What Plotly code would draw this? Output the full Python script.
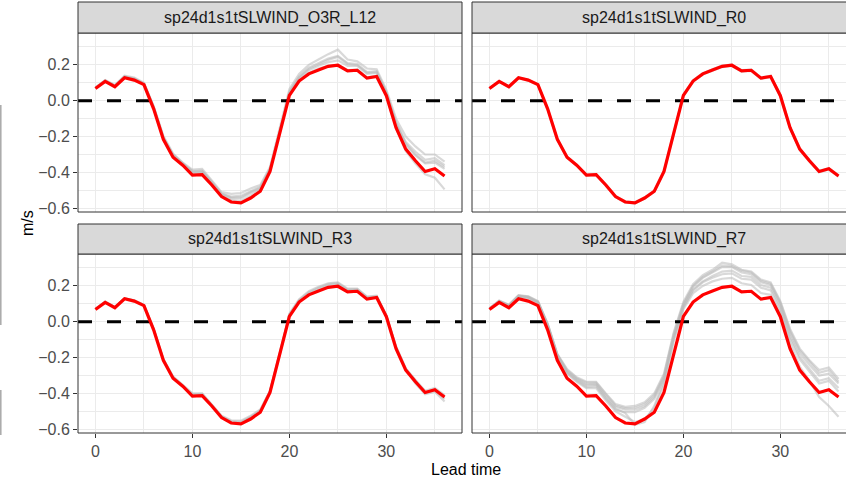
import plotly.graph_objects as go

# ---------------- data ----------------
lead_time = [0, 1, 2, 3, 4, 5, 6, 7, 8, 9, 10, 11, 12, 13, 14, 15, 16, 17, 18,
             19, 20, 21, 22, 23, 24, 25, 26, 27, 28, 29, 30, 31, 32, 33, 34, 35, 36]

panels = ["sp24d1s1tSLWIND_O3R_L12", "sp24d1s1tSLWIND_R0",
          "sp24d1s1tSLWIND_R3", "sp24d1s1tSLWIND_R7"]

control = [0.068, 0.108, 0.078, 0.128, 0.115, 0.090, -0.045, -0.215, -0.315, -0.360,
           -0.415, -0.413, -0.470, -0.535, -0.565, -0.570, -0.543, -0.505, -0.395, -0.190,
           0.030, 0.110, 0.150, 0.172, 0.192, 0.198, 0.167, 0.170, 0.126, 0.135,
           0.028, -0.150, -0.270, -0.335, -0.395, -0.380, -0.420]

l12_m1 = [0.075, 0.115, 0.088, 0.140, 0.130, 0.100, -0.030, -0.195, -0.295, -0.345,
          -0.385, -0.380, -0.445, -0.510, -0.520, -0.515, -0.490, -0.470, -0.370, -0.160,
          0.065, 0.150, 0.200, 0.230, 0.260, 0.285, 0.230, 0.220, 0.180, 0.175,
          0.060, -0.100, -0.200, -0.255, -0.300, -0.300, -0.340]
l12_m2 = [0.072, 0.112, 0.085, 0.135, 0.125, 0.095, -0.035, -0.205, -0.300, -0.350,
          -0.395, -0.390, -0.455, -0.520, -0.535, -0.530, -0.505, -0.480, -0.380, -0.175,
          0.050, 0.135, 0.185, 0.210, 0.235, 0.250, 0.210, 0.205, 0.160, 0.165,
          0.045, -0.120, -0.230, -0.285, -0.330, -0.320, -0.360]
l12_m3 = [0.070, 0.110, 0.082, 0.132, 0.120, 0.094, -0.040, -0.210, -0.305, -0.355,
          -0.400, -0.398, -0.460, -0.525, -0.545, -0.545, -0.515, -0.490, -0.385, -0.180,
          0.040, 0.125, 0.170, 0.195, 0.215, 0.225, 0.195, 0.195, 0.150, 0.155,
          0.040, -0.130, -0.245, -0.305, -0.350, -0.345, -0.380]
l12_m4 = [0.068, 0.108, 0.080, 0.130, 0.118, 0.092, -0.042, -0.212, -0.310, -0.358,
          -0.405, -0.402, -0.465, -0.530, -0.555, -0.560, -0.530, -0.495, -0.390, -0.185,
          0.035, 0.115, 0.155, 0.180, 0.195, 0.200, 0.170, 0.175, 0.130, 0.140,
          0.030, -0.155, -0.280, -0.350, -0.410, -0.430, -0.495]
l12_m5 = [0.070, 0.112, 0.084, 0.136, 0.122, 0.096, -0.036, -0.206, -0.302, -0.352,
          -0.392, -0.392, -0.452, -0.518, -0.540, -0.538, -0.510, -0.485, -0.382, -0.178,
          0.045, 0.130, 0.178, 0.205, 0.228, 0.245, 0.205, 0.198, 0.155, 0.160,
          0.048, -0.125, -0.238, -0.300, -0.345, -0.335, -0.370]

r0_m1 = [0.070, 0.110, 0.080, 0.130, 0.117, 0.092, -0.042, -0.212, -0.312, -0.358,
         -0.412, -0.410, -0.467, -0.532, -0.562, -0.567, -0.540, -0.502, -0.392, -0.186,
         0.034, 0.114, 0.154, 0.176, 0.196, 0.202, 0.171, 0.174, 0.130, 0.139,
         0.032, -0.146, -0.266, -0.331, -0.391, -0.376, -0.416]
r0_m2 = [0.066, 0.106, 0.076, 0.126, 0.113, 0.088, -0.048, -0.218, -0.318, -0.363,
         -0.418, -0.416, -0.473, -0.538, -0.568, -0.573, -0.546, -0.508, -0.398, -0.194,
         0.026, 0.106, 0.146, 0.168, 0.188, 0.194, 0.163, 0.166, 0.122, 0.131,
         0.024, -0.154, -0.274, -0.339, -0.399, -0.384, -0.424]

r3_m1 = [0.072, 0.112, 0.082, 0.132, 0.120, 0.094, -0.040, -0.208, -0.305, -0.352,
         -0.400, -0.400, -0.460, -0.525, -0.550, -0.552, -0.525, -0.490, -0.385, -0.180,
         0.045, 0.125, 0.170, 0.195, 0.215, 0.220, 0.185, 0.185, 0.140, 0.145,
         0.035, -0.140, -0.260, -0.330, -0.395, -0.385, -0.430]
r3_m2 = [0.070, 0.110, 0.080, 0.130, 0.118, 0.092, -0.042, -0.212, -0.312, -0.358,
         -0.408, -0.406, -0.466, -0.530, -0.560, -0.562, -0.535, -0.498, -0.390, -0.185,
         0.038, 0.118, 0.160, 0.185, 0.205, 0.210, 0.178, 0.178, 0.135, 0.140,
         0.032, -0.145, -0.268, -0.345, -0.405, -0.390, -0.445]
r3_m3 = [0.070, 0.110, 0.082, 0.130, 0.118, 0.093, -0.040, -0.210, -0.308, -0.355,
         -0.405, -0.402, -0.462, -0.528, -0.555, -0.558, -0.530, -0.495, -0.388, -0.182,
         0.040, 0.120, 0.165, 0.190, 0.210, 0.215, 0.180, 0.182, 0.138, 0.142,
         0.034, -0.140, -0.262, -0.325, -0.385, -0.370, -0.410]

r7_m1 = [0.075, 0.118, 0.095, 0.148, 0.142, 0.115, -0.010, -0.180, -0.265, -0.310,
         -0.335, -0.335, -0.400, -0.460, -0.475, -0.470, -0.450, -0.400, -0.290, -0.060,
         0.110, 0.210, 0.260, 0.290, 0.330, 0.320, 0.290, 0.280, 0.235, 0.220,
         0.115, -0.040, -0.150, -0.215, -0.270, -0.255, -0.320]
r7_m2 = [0.073, 0.115, 0.092, 0.145, 0.138, 0.110, -0.015, -0.185, -0.275, -0.320,
         -0.350, -0.345, -0.415, -0.475, -0.490, -0.490, -0.470, -0.420, -0.310, -0.080,
         0.095, 0.195, 0.245, 0.275, 0.305, 0.305, 0.275, 0.265, 0.220, 0.205,
         0.100, -0.060, -0.175, -0.240, -0.300, -0.290, -0.345]
r7_m3 = [0.072, 0.112, 0.090, 0.142, 0.135, 0.108, -0.020, -0.190, -0.285, -0.330,
         -0.365, -0.360, -0.430, -0.490, -0.505, -0.505, -0.480, -0.430, -0.320, -0.090,
         0.085, 0.180, 0.225, 0.255, 0.280, 0.285, 0.255, 0.250, 0.205, 0.190,
         0.085, -0.080, -0.195, -0.265, -0.330, -0.315, -0.370]
r7_m4 = [0.070, 0.110, 0.088, 0.140, 0.132, 0.105, -0.025, -0.195, -0.290, -0.335,
         -0.370, -0.370, -0.440, -0.500, -0.530, -0.560, -0.545, -0.480, -0.350, -0.110,
         0.070, 0.160, 0.200, 0.225, 0.240, 0.245, 0.215, 0.205, 0.160, 0.150,
         0.050, -0.120, -0.250, -0.330, -0.420, -0.470, -0.530]
r7_m5 = [0.071, 0.113, 0.089, 0.143, 0.136, 0.109, -0.018, -0.188, -0.280, -0.325,
         -0.355, -0.352, -0.425, -0.485, -0.510, -0.575, -0.560, -0.470, -0.330, -0.095,
         0.080, 0.175, 0.220, 0.245, 0.265, 0.270, 0.240, 0.235, 0.190, 0.175,
         0.070, -0.095, -0.210, -0.280, -0.345, -0.330, -0.390]
r7_m6 = [0.074, 0.116, 0.093, 0.146, 0.140, 0.112, -0.012, -0.182, -0.270, -0.315,
         -0.340, -0.340, -0.405, -0.468, -0.482, -0.480, -0.460, -0.410, -0.300, -0.070,
         0.100, 0.200, 0.250, 0.280, 0.315, 0.310, 0.285, 0.275, 0.228, 0.212,
         0.108, -0.050, -0.160, -0.225, -0.285, -0.270, -0.335]

members = [
    [l12_m1, l12_m2, l12_m3, l12_m4, l12_m5],
    [r0_m1, r0_m2],
    [r3_m1, r3_m2, r3_m3],
    [r7_m1, r7_m2, r7_m3, r7_m4, r7_m5, r7_m6],
]

reference_level = 0.0
x_title = "Lead time"
y_title = "m/s"

# ---------------- layout geometry (pixels) ----------------
W, H = 846, 483
ML, MR, MT, MB = 78, 0, 2, 50
PW = W - ML - MR
PH = H - MT - MB


def px_x(x):
    return (x - ML) / PW


def px_y(y):
    return (H - MB - y) / PH


col_px = [(78, 462), (472, 846)]
col_full_right = [462, 855]
row_px = [(33, 212), (254, 433)]
strip_px = [(2, 33), (224, 254)]
x_ranges = [[-1.8, 37.8], [-1.8, 36.77]]
y_range = [-0.621, 0.378]

FONT = "Liberation Sans, Arial, Helvetica, sans-serif"
GRID = "#EBEBEB"
DARK = "#333333"

fig = go.Figure()
layout = dict(
    width=W, height=H,
    margin=dict(l=ML, r=MR, t=MT, b=MB, pad=0, autoexpand=False),
    paper_bgcolor="white", plot_bgcolor="white",
    showlegend=False,
    font=dict(family=FONT, size=16, color="#4D4D4D"),
)
shapes = []
annotations = []

for k in range(4):
    r, c = divmod(k, 2)
    idx = "" if k == 0 else str(k + 1)
    xa, ya = "x" + idx, "y" + idx
    for m in members[k]:
        fig.add_trace(go.Scatter(x=lead_time, y=m, mode="lines", xaxis=xa, yaxis=ya,
                                 line=dict(color="rgba(185,185,185,0.55)", width=2.2),
                                 hoverinfo="skip"))
    # dashed horizontal reference line across the whole panel
    fig.add_trace(go.Scatter(x=x_ranges[c], y=[reference_level, reference_level],
                             mode="lines", xaxis=xa, yaxis=ya, hoverinfo="skip",
                             line=dict(color="black", width=2.8, dash="14px,15px")))
    fig.add_trace(go.Scatter(x=lead_time, y=control, mode="lines", xaxis=xa, yaxis=ya,
                             line=dict(color="#FF0000", width=3.2)))

    c0, c1 = col_px[c]
    r0, r1 = row_px[r]
    bottom = (r == 1)
    left = (c == 0)
    layout["xaxis" + idx] = dict(
        domain=[px_x(c0), px_x(c1)], anchor=ya, range=x_ranges[c],
        tickmode="linear", tick0=0, dtick=10,
        showgrid=True, gridcolor=GRID, gridwidth=1.1, zeroline=False,
        minor=dict(tick0=0, dtick=5, showgrid=True, gridcolor=GRID, gridwidth=0.6),
        showline=False, automargin=False,
        showticklabels=bottom, ticks="outside" if bottom else "",
        ticklen=4, tickwidth=1, tickcolor=DARK,
        tickfont=dict(family=FONT, size=16, color="#4D4D4D"),
    )
    layout["yaxis" + idx] = dict(
        domain=[px_y(r1), px_y(r0)], anchor=xa, range=y_range,
        tickmode="linear", tick0=0, dtick=0.2, tickformat=".1f",
        showgrid=True, gridcolor=GRID, gridwidth=1.1, zeroline=False,
        minor=dict(tick0=0.1, dtick=0.2, showgrid=True, gridcolor=GRID, gridwidth=0.6),
        showline=False, automargin=False,
        showticklabels=left, ticks="outside" if left else "",
        ticklen=4, tickwidth=1, tickcolor=DARK,
        tickfont=dict(family=FONT, size=16, color="#4D4D4D"),
    )

    # panel border
    xr = px_x(c1) if left else 1.02
    shapes.append(dict(type="rect", xref="paper", yref="paper",
                       x0=px_x(c0), x1=xr, y0=px_y(r1), y1=px_y(r0),
                       line=dict(color=DARK, width=1), fillcolor="rgba(0,0,0,0)", layer="above"))
    # strip
    s0, s1 = strip_px[r]
    shapes.append(dict(type="rect", xref="paper", yref="paper",
                       x0=px_x(c0), x1=xr, y0=px_y(s1), y1=px_y(s0),
                       line=dict(color=DARK, width=1), fillcolor="#D9D9D9", layer="above"))
    cx = (c0 + col_full_right[c]) / 2
    annotations.append(dict(text=panels[k], xref="paper", yref="paper",
                            x=px_x(cx), y=px_y((s0 + s1) / 2), xanchor="center", yanchor="middle",
                            showarrow=False, font=dict(family=FONT, size=16, color="#1A1A1A")))

# axis titles
annotations.append(dict(text=x_title, xref="paper", yref="paper", x=px_x(466), y=px_y(469),
                        xanchor="center", yanchor="middle", showarrow=False,
                        font=dict(family=FONT, size=16, color="black")))
annotations.append(dict(text=y_title, xref="paper", yref="paper", x=px_x(27), y=px_y(223),
                        xanchor="center", yanchor="middle", showarrow=False, textangle=-90,
                        font=dict(family=FONT, size=16, color="black")))

# cropped remnants at the left edge of the picture
for (ya0, ya1) in [(105, 325), (390, 435)]:
    shapes.append(dict(type="line", xref="paper", yref="paper",
                       x0=px_x(0.8), x1=px_x(0.8), y0=px_y(ya1), y1=px_y(ya0),
                       line=dict(color="#A8A8A8", width=1.5)))

layout["shapes"] = shapes
layout["annotations"] = annotations
fig.update_layout(**layout)
fig.write_html("out.html", config={"displayModeBar": False},
               post_script="document.body.style.margin='0';document.body.style.overflow='hidden';")
